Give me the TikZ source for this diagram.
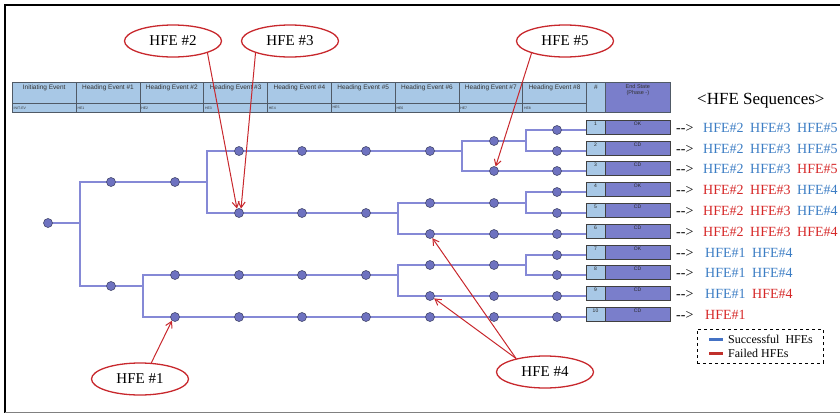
\documentclass[tikz,border=0pt]{standalone}
\usepackage{fontspec}
\setmainfont{Liberation Serif}
\newfontfamily\tblfont{Liberation Sans}
\usetikzlibrary{shapes.geometric,arrows.meta,backgrounds}

\definecolor{hdblue}{HTML}{A8C8E6}
\definecolor{esfill}{HTML}{7A7ECB}
\definecolor{treeline}{HTML}{8589D6}
\definecolor{nodefill}{HTML}{6E72C0}
\definecolor{nodeedge}{HTML}{45486E}
\definecolor{gridline}{HTML}{505A66}
\definecolor{seqblue}{HTML}{3C7DC4}
\definecolor{seqred}{HTML}{D62828}
\definecolor{calloutred}{HTML}{C8282D}
\definecolor{legblue}{HTML}{4472C4}
\definecolor{legred}{HTML}{C0302B}

\tikzset{
  hdcell/.style={rectangle, draw=gridline, line width=0.6pt, fill=hdblue, inner sep=0pt, anchor=north west},
  hdtext/.style={font=\tblfont\fontsize{6.5}{7.3}\selectfont, text=black!80, inner sep=0pt, anchor=north},
  hdsmall/.style={font=\tblfont\fontsize{3.5}{4}\selectfont, text=black!80, inner sep=0pt, anchor=west},
  numbox/.style={rectangle, draw=black!75, line width=0.9pt, fill=hdblue, inner sep=0pt, minimum width=19pt, minimum height=14pt},
  esbox/.style={rectangle, draw=black!75, line width=0.9pt, fill=esfill, inner sep=0pt, minimum width=65pt, minimum height=14pt},
  boxtext/.style={font=\tblfont\fontsize{5}{5.5}\selectfont, text=black!85, inner sep=0pt, anchor=north},
  branch/.style={draw=treeline, line width=1.7pt},
  evnode/.style={circle, fill=nodefill, draw=nodeedge, line width=0.6pt, inner sep=0pt, minimum size=9pt},
  callout/.style={ellipse, draw=calloutred, line width=1.3pt, fill=white, inner sep=0pt,
    minimum width=97pt, minimum height=32pt, font=\fontsize{15}{17}\selectfont},
  pointer/.style={draw=calloutred, line width=1pt, -{Straight Barb[length=6pt,width=7pt]}},
  seq/.style={font=\fontsize{14}{16}\selectfont, inner sep=0pt, anchor=base west},
  seqarrow/.style={font=\fontsize{14}{16}\selectfont, inner sep=0pt, anchor=base west},
}

\begin{document}
\begin{tikzpicture}[x=1pt,y=-1pt]
\useasboundingbox (0,0) rectangle (840,413);

% page frame
\draw[line width=1.6pt] (4,5) -- (840,5);
\draw[line width=1.6pt] (5,4) -- (5,413);
\draw[gray, line width=0.8pt] (5,412) -- (840,412);

% heading row of the event tree table
\foreach \i/\t/\s in {0/Initiating Event/INIT-EV, 1/Heading Event \#1/HE1, 2/Heading Event \#2/HE2,
    3/Heading Event \#3/HE3, 4/Heading Event \#4/HE4, 5/Heading Event \#5/HE5,
    6/Heading Event \#6/HE6, 7/Heading Event \#7/HE7, 8/Heading Event \#8/HE8}{
  \node[hdcell, minimum width=63.8pt, minimum height=21pt] (hd\i) at ({12+63.8*\i},82) {};
  \node[hdcell, minimum width=63.8pt, minimum height=9pt] (hs\i) at ({12+63.8*\i},103) {};
  \node[hdtext] (hdt\i) at ([yshift=-3pt]hd\i.north) {\t};
  \node[hdsmall] (hst\i) at ([xshift=1.5pt]hs\i.west) {\s};
}
\node[hdcell, minimum width=19pt, minimum height=30pt] (hnum) at (586,82) {};
\node[hdtext] (hnumt) at ([yshift=-3pt]hnum.north) {\#};
\node[hdcell, fill=esfill, minimum width=65pt, minimum height=30pt] (hes) at (605,82) {};
\node[hdtext, align=center, font=\tblfont\fontsize{5.5}{6.5}\selectfont] (hest) at ([yshift=-2pt]hes.north) {End State\\(Phase -)};

% end state boxes
\foreach \k/\y/\es in {1/130/OK, 2/151/CD, 3/171/CD, 4/192/OK, 5/213/CD,
    6/234/CD, 7/255/OK, 8/275/CD, 9/296/CD, 10/317/CD}{
  \node[numbox] (nb\k) at (595.5,{\y-2.5}) {};
  \node[esbox] (eb\k) at (637.5,{\y-2.5}) {};
  \node[boxtext] (nbt\k) at ([yshift=-2pt]nb\k.north) {\k};
  \node[boxtext] (ebt\k) at ([yshift=-2pt]eb\k.north) {\es};
}

% event tree nodes
\node[evnode] (init) at (48,223) {};
\node[evnode] (u1) at (111,182) {};
\node[evnode] (u2) at (175,182) {};
\node[evnode] (p3) at (239,151) {};
\node[evnode] (p4) at (302,151) {};
\node[evnode] (p5) at (366,151) {};
\node[evnode] (p6) at (430,151) {};
\node[evnode] (p7) at (494,141) {};
\node[evnode] (r1h8) at (557,130) {};
\node[evnode] (r2h8) at (557,151) {};
\node[evnode] (r3h7) at (494,171) {};
\node[evnode] (r3h8) at (557,171) {};
\node[evnode] (q3) at (239,213) {};
\node[evnode] (q4) at (302,213) {};
\node[evnode] (q5) at (366,213) {};
\node[evnode] (q6) at (430,203) {};
\node[evnode] (q7) at (494,203) {};
\node[evnode] (r4h8) at (557,192) {};
\node[evnode] (r5h8) at (557,213) {};
\node[evnode] (r6h6) at (430,234) {};
\node[evnode] (r6h7) at (494,234) {};
\node[evnode] (r6h8) at (557,234) {};
\node[evnode] (l1) at (111,286) {};
\node[evnode] (s2) at (175,275) {};
\node[evnode] (s3) at (239,275) {};
\node[evnode] (s4) at (302,275) {};
\node[evnode] (s5) at (366,275) {};
\node[evnode] (s6) at (430,265) {};
\node[evnode] (s7) at (494,265) {};
\node[evnode] (r7h8) at (557,255) {};
\node[evnode] (r8h8) at (557,275) {};
\node[evnode] (r9h6) at (430,296) {};
\node[evnode] (r9h7) at (494,296) {};
\node[evnode] (r9h8) at (557,296) {};
\foreach \h/\x in {2/175,3/239,4/302,5/366,6/430,7/494,8/557}{
  \node[evnode] (r10h\h) at (\x,317) {};
}

% branch points
\coordinate (sp0) at (80,223);
\coordinate (sp1) at (207,182);
\coordinate (sp2) at (462,151);
\coordinate (sp3) at (526,141);
\coordinate (sp4) at (398,213);
\coordinate (sp5) at (526,203);
\coordinate (sp6) at (143,286);
\coordinate (sp7) at (398,275);
\coordinate (sp8) at (526,265);

\begin{pgfonlayer}{background}
  \draw[branch] (init.center) -- (sp0);
  \draw[branch] (u1.center) -| (sp0) |- (l1.center);
  \draw[branch] (u1.center) -- (u2.center) -- (sp1);
  \draw[branch] (p3.center) -| (sp1) |- (q3.center);
  % upper group
  \draw[branch] (p3.center) -- (p4.center) -- (p5.center) -- (p6.center) -- (sp2);
  \draw[branch] (p7.center) -| (sp2) |- (r3h7.center);
  \draw[branch] (p7.center) -- (sp3);
  \draw[branch] (r1h8.center) -| (sp3) |- (r2h8.center);
  \draw[branch] (r1h8.center) -- (r1h8 -| nb1.west);
  \draw[branch] (r2h8.center) -- (r2h8 -| nb2.west);
  \draw[branch] (r3h7.center) -- (r3h8.center) -- (r3h8 -| nb3.west);
  \draw[branch] (q3.center) -- (q4.center) -- (q5.center) -- (sp4);
  \draw[branch] (q6.center) -| (sp4) |- (r6h6.center);
  \draw[branch] (q6.center) -- (q7.center) -- (sp5);
  \draw[branch] (r4h8.center) -| (sp5) |- (r5h8.center);
  \draw[branch] (r4h8.center) -- (r4h8 -| nb4.west);
  \draw[branch] (r5h8.center) -- (r5h8 -| nb5.west);
  \draw[branch] (r6h6.center) -- (r6h7.center) -- (r6h8.center) -- (r6h8 -| nb6.west);
  % lower group
  \draw[branch] (l1.center) -- (sp6);
  \draw[branch] (s2.center) -| (sp6) |- (r10h2.center);
  \draw[branch] (s2.center) -- (s3.center) -- (s4.center) -- (s5.center) -- (sp7);
  \draw[branch] (s6.center) -| (sp7) |- (r9h6.center);
  \draw[branch] (s6.center) -- (s7.center) -- (sp8);
  \draw[branch] (r7h8.center) -| (sp8) |- (r8h8.center);
  \draw[branch] (r7h8.center) -- (r7h8 -| nb7.west);
  \draw[branch] (r8h8.center) -- (r8h8 -| nb8.west);
  \draw[branch] (r9h6.center) -- (r9h7.center) -- (r9h8.center) -- (r9h8 -| nb9.west);
  \draw[branch] (r10h2.center) -- (r10h3.center) -- (r10h4.center) -- (r10h5.center)
     -- (r10h6.center) -- (r10h7.center) -- (r10h8.center) -- (r10h8 -| nb10.west);
\end{pgfonlayer}

% HFE sequences
\node[font=\fontsize{17}{19}\selectfont, inner sep=0pt, anchor=base west] (seqtitle) at (697,104) {<HFE Sequences>};
\foreach \k/\y in {1/130,2/151,3/171,4/192,5/213,6/234,7/255,8/275,9/296,10/317}{
  \node[seqarrow] (arr\k) at (676,{\y+2.5}) {{-}{-}>};
}
\foreach \k/\y/\ca/\ta/\cb/\tb/\cc/\tc in {
    1/130/seqblue/2/seqblue/3/seqblue/5,
    2/151/seqblue/2/seqblue/3/seqblue/5,
    3/171/seqblue/2/seqblue/3/seqred/5,
    4/192/seqred/2/seqred/3/seqblue/4,
    5/213/seqred/2/seqred/3/seqblue/4,
    6/234/seqred/2/seqred/3/seqred/4}{
  \node[seq, text=\ca] (sqa\k) at (703,{\y+2.5}) {HFE\#\ta};
  \node[seq, text=\cb] (sqb\k) at (750,{\y+2.5}) {HFE\#\tb};
  \node[seq, text=\cc] (sqc\k) at (797,{\y+2.5}) {HFE\#\tc};
}
\foreach \k/\y/\cb in {7/255/seqblue, 8/275/seqblue, 9/296/seqred}{
  \node[seq, text=seqblue] (sqa\k) at (705,{\y+2.5}) {HFE\#1};
  \node[seq, text=\cb] (sqb\k) at (752,{\y+2.5}) {HFE\#4};
}
\node[seq, text=seqred] (sqa10) at (705,319.5) {HFE\#1};

% legend
\node[draw=black, dashed, line width=0.9pt, minimum width=126pt, minimum height=34pt, inner sep=0pt] (legend) at (760,346) {};
\coordinate (lgb1) at (709,339.5);
\coordinate (lgb2) at (723,339.5);
\coordinate (lgr1) at (709,353.5);
\coordinate (lgr2) at (723,353.5);
\draw[legblue, line width=2.4pt] (lgb1) -- (lgb2);
\draw[legred, line width=2.4pt] (lgr1) -- (lgr2);
\node[font=\fontsize{12}{14}\selectfont, inner sep=0pt, anchor=west] (legs) at (728,339) {Successful~ HFEs};
\node[font=\fontsize{12}{14}\selectfont, inner sep=0pt, anchor=west] (legf) at (728,353) {Failed HFEs};

% callouts
\node[callout] (c1) at (140,379) {HFE \#1};
\node[callout] (c2) at (173,41) {HFE \#2};
\node[callout] (c3) at (290,41) {HFE \#3};
\node[callout] (c4) at (545,372) {HFE \#4};
\node[callout] (c5) at (565,41) {HFE \#5};

\draw[pointer] (c2.-19) -- (q3.115);
\draw[pointer] (c3.-161) -- (q3.65);
\draw[pointer] (c5.-160) -- (r3h7.70);
\draw[pointer] (c1.55) -- (r10h2.-130);
\draw[pointer] (c4.155) -- (r6h6.-60);
\draw[pointer] (c4.155) -- (r9h6.-30);
\end{tikzpicture}
\end{document}
